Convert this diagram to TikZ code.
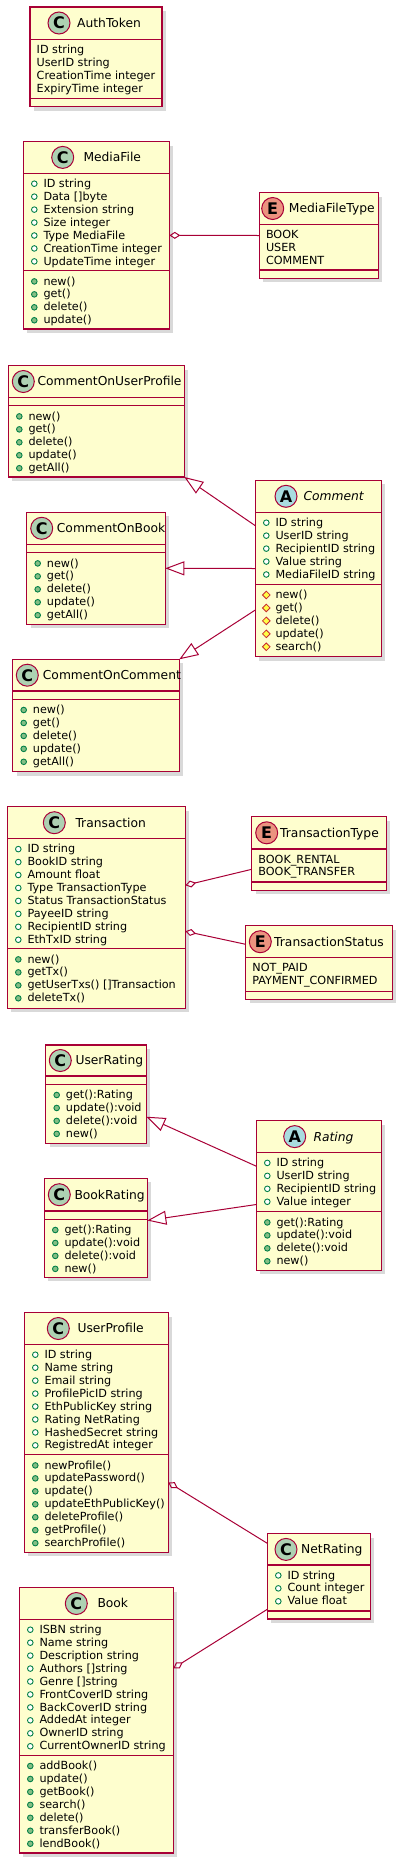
\documentclass[tikz,border=0pt]{standalone}
\usepackage{fontspec}
\setmainfont{DejaVu Sans}
\usetikzlibrary{arrows.meta,shadows}
\definecolor{cfill}{HTML}{FEFECE}
\definecolor{border}{HTML}{A80036}
\definecolor{cgreen}{HTML}{ADD1B2}
\definecolor{cabs}{HTML}{A9DCDF}
\definecolor{cenum}{HTML}{EB937F}
\definecolor{icgreen}{HTML}{038048}
\definecolor{icfill}{HTML}{84BE84}
\definecolor{protfill}{HTML}{FFFF44}
\definecolor{protdraw}{HTML}{C82930}
\newcommand\rowfont{\fontsize{11.2}{13}\selectfont}
\newcommand\titlefont{\fontsize{12.3}{14}\selectfont}
\newcommand\letterfont{\fontsize{16}{16}\selectfont\bfseries}
\tikzset{
  x=1pt, y=-1pt,
  cls/.style={draw=border, fill=cfill, line width=1.5pt, inner sep=0pt, outer sep=0pt,
    drop shadow={shadow xshift=4pt, shadow yshift=-4pt, opacity=0.25, fill=black!60}},
  sepl/.style={draw=border, line width=1.5pt},
  txt/.style={anchor=base west, inner sep=0pt, font=\rowfont},
  ttl/.style={anchor=base west, inner sep=0pt, font=\titlefont},
  circ/.style={circle, draw=border, line width=1pt, minimum size=22pt, inner sep=0pt, font=\letterfont},
  fico/.style={draw=icgreen, line width=0.9pt, fill=white},
  mico/.style={draw=icgreen, line width=0.9pt, fill=icfill},
  pico/.style={draw=protdraw, line width=0.8pt, fill=protfill},
  edge/.style={draw=border, line width=1pt},
  agg/.style={edge, arrows={Diamond[open,length=11pt,width=7pt]-}},
  inh/.style={edge, arrows={-Triangle[open,length=19pt,width=14pt]}},
}
% #1 kind (0 plain, 1 field, 2 method, 3 protected), #2 left x, #3 first baseline, #4 prefix, #5 list
\newcommand\Rows[5]{%
  \foreach \rowtext [count=\i from 0] in {#5}{%
    \pgfmathsetmacro\yy{#3+\i*12.95}%
    \ifcase#1\relax
      \node[txt] (#4-\i) at (#2+6.5,\yy) {\rowtext};%
    \or
      \draw[fico] (#2+11,\yy-3.6) circle (2.8);\node[txt] (#4-\i) at (#2+20,\yy) {\rowtext};%
    \or
      \draw[mico] (#2+11,\yy-3.6) circle (2.8);\node[txt] (#4-\i) at (#2+20,\yy) {\rowtext};%
    \or
      \draw[pico] (#2+11,\yy-3.6) +(0,-3.8) -- +(3.8,0) -- +(0,3.8) -- +(-3.8,0) -- cycle;\node[txt] (#4-\i) at (#2+20,\yy) {\rowtext};%
    \fi}}
% name L T R B hsep sep2
\newcommand\ClassBox[7]{%
  \node[cls, anchor=north west, minimum width={#4-#2}, minimum height={#5-#3}] (#1) at (#2,#3) {};
  \draw[sepl] (#2,#6) -- (#4,#6);
  \draw[sepl] (#2,#7) -- (#4,#7);}
% name cx cy letter color textx title
\newcommand\Title[7]{%
  \node[circ, fill=#5] (#1-icon) at (#2,#3) {#4};
  \node[ttl] (#1-title) at (#6,#3+4.4) {#7};}
\begin{document}
\begin{tikzpicture}
\useasboundingbox (0,0) rectangle (405,1866);

% AuthToken
\ClassBox{AuthToken}{30}{7}{162}{106.7}{39.3}{98.7}
\Title{AuthToken}{59}{23}{C}{cgreen}{77}{AuthToken}
\Rows{0}{30}{53.3}{at}{ID string,UserID string,CreationTime integer,ExpiryTime integer}

% MediaFile
\ClassBox{MediaFile}{23.3}{141.7}{169.3}{329}{173.3}{270.7}
\Title{MediaFile}{62.7}{157.4}{C}{cgreen}{83.3}{MediaFile}
\Rows{1}{23.3}{187.3}{mff}{ID string,Data []byte,Extension string,Size integer,Type MediaFile,CreationTime integer,UpdateTime integer}
\Rows{2}{23.3}{285}{mfm}{new(),get(),delete(),update()}

% MediaFileType
\ClassBox{MediaFileType}{259.3}{192.7}{378.3}{278.3}{224.3}{270}
\Title{MediaFileType}{272.7}{208.5}{E}{cenum}{288.7}{MediaFileType}
\Rows{0}{259.3}{238.3}{mft}{BOOK,USER,COMMENT}

% CommentOnUserProfile
\ClassBox{CommentOnUserProfile}{8.3}{365.7}{184.3}{477}{397.3}{405.7}
\Title{CommentOnUserProfile}{23.3}{381.5}{C}{cgreen}{37.3}{CommentOnUserProfile}
\Rows{2}{8.3}{420}{coup}{new(),get(),delete(),update(),getAll()}

% CommentOnBook
\ClassBox{CommentOnBook}{26.7}{512.3}{165.3}{624.3}{544.3}{552.7}
\Title{CommentOnBook}{41.7}{528.3}{C}{cgreen}{56.7}{CommentOnBook}
\Rows{2}{26.7}{567}{cob}{new(),get(),delete(),update(),getAll()}

% CommentOnComment
\ClassBox{CommentOnComment}{12.7}{659.3}{179.3}{771.7}{691}{699.3}
\Title{CommentOnComment}{27.3}{675.2}{C}{cgreen}{42.7}{CommentOnComment}
\Rows{2}{12.7}{713.6}{coc}{new(),get(),delete(),update(),getAll()}

% Comment
\ClassBox{Comment}{255.3}{480.3}{381.3}{656.7}{512.3}{584.3}
\Title{Comment}{286}{496.3}{A}{cabs}{303.3}{\itshape Comment}
\Rows{1}{255.3}{526.3}{cmf}{ID string,UserID string,RecipientID string,Value string,MediaFileID string}
\Rows{3}{255.3}{598.6}{cmm}{new(),get(),delete(),update(),search()}

% Transaction
\ClassBox{Transaction}{7.3}{806.7}{185.3}{1008.3}{838.7}{948.7}
\Title{Transaction}{54.3}{822.7}{C}{cgreen}{75.3}{Transaction}
\Rows{1}{7.3}{852.7}{trf}{ID string,BookID string,Amount float,Type TransactionType,Status TransactionStatus,PayeeID string,RecipientID string,EthTxID string}
\Rows{2}{7.3}{963}{trm}{new(),getTx(),getUserTxs() []Transaction,deleteTx()}

% TransactionType
\ClassBox{TransactionType}{251.7}{816.7}{386.3}{890.3}{849}{882}
\Title{TransactionType}{266.7}{832.8}{E}{cenum}{280}{TransactionType}
\Rows{0}{251.7}{863}{tt}{BOOK\_RENTAL,BOOK\_TRANSFER}

% TransactionStatus
\ClassBox{TransactionStatus}{245.7}{925.7}{392.3}{999.3}{957.7}{991.7}
\Title{TransactionStatus}{260.3}{941.7}{E}{cenum}{274}{TransactionStatus}
\Rows{0}{245.7}{971.7}{ts}{NOT\_PAID,PAYMENT\_CONFIRMED}

% UserRating
\ClassBox{UserRating}{45.7}{1045}{146.3}{1143.3}{1076}{1084.3}
\Title{UserRating}{60.3}{1060.5}{C}{cgreen}{75.3}{UserRating}
\Rows{2}{45.7}{1098.6}{urm}{get():Rating,update():void,delete():void,new()}

% BookRating
\ClassBox{BookRating}{44.3}{1178.3}{147.3}{1277.3}{1211}{1219.3}
\Title{BookRating}{59.3}{1194.7}{C}{cgreen}{74.3}{BookRating}
\Rows{2}{44.3}{1233.6}{brm}{get():Rating,update():void,delete():void,new()}

% Rating
\ClassBox{Rating}{256.3}{1120.7}{381.3}{1270.3}{1152.5}{1211.7}
\Title{Rating}{294.7}{1136.6}{A}{cabs}{313.3}{\itshape Rating}
\Rows{1}{256.3}{1166.5}{rtf}{ID string,UserID string,RecipientID string,Value integer}
\Rows{2}{256.3}{1226}{rtm}{get():Rating,update():void,delete():void,new()}

% UserProfile
\ClassBox{UserProfile}{24.3}{1312.7}{168.3}{1552.3}{1344.3}{1454.7}
\Title{UserProfile}{58.3}{1328.5}{C}{cgreen}{77.3}{UserProfile}
\Rows{1}{24.3}{1358.3}{upf}{ID string,Name string,Email string,ProfilePicID string,EthPublicKey string,Rating NetRating,HashedSecret string,RegistredAt integer}
\Rows{2}{24.3}{1469}{upm}{newProfile(),updatePassword(),update(),updateEthPublicKey(),deleteProfile(),getProfile(),searchProfile()}

% NetRating
\ClassBox{NetRating}{267.3}{1533.7}{370.3}{1619}{1565}{1611}
\Title{NetRating}{286}{1549.4}{C}{cgreen}{301}{NetRating}
\Rows{1}{267.3}{1579}{nrf}{ID string,Count integer,Value float}

% Book
\ClassBox{Book}{19.3}{1587.7}{173.3}{1853}{1619.3}{1755.3}
\Title{Book}{76.3}{1603.5}{C}{cgreen}{97.3}{Book}
\Rows{1}{19.3}{1633.3}{bkf}{ISBN string,Name string,Description string,Authors []string,Genre []string,FrontCoverID string,BackCoverID string,AddedAt integer,OwnerID string,CurrentOwnerID string}
\Rows{2}{19.3}{1769.6}{bkm}{addBook(),update(),getBook(),search(),delete(),transferBook(),lendBook()}

% connectors
\draw[agg] (MediaFile.east) -- (MediaFileType.west);
\draw[inh] ([yshift=-45.4pt]Comment.north west) -- (CommentOnUserProfile.south east);
\draw[inh] (Comment.west) -- (CommentOnBook.east);
\draw[inh] ([yshift=-129.7pt]Comment.north west) -- (CommentOnComment.north east);
\draw[agg] ([yshift=-78.6pt]Transaction.north east) -- ([yshift=-52.6pt]TransactionType.north west);
\draw[agg] ([yshift=-124.6pt]Transaction.north east) -- ([yshift=-18.6pt]TransactionStatus.north west);
\draw[inh] ([yshift=-45.5pt]Rating.north west) -- ([yshift=-71.7pt]UserRating.north east);
\draw[inh] ([yshift=-83.8pt]Rating.north west) -- ([yshift=-42.2pt]BookRating.north east);
\draw[agg] ([yshift=-169.6pt]UserProfile.north east) -- ([yshift=-9.6pt]NetRating.north west);
\draw[agg] ([yshift=-80.6pt]Book.north east) -- ([yshift=-75.6pt]NetRating.north west);
\end{tikzpicture}
\end{document}
